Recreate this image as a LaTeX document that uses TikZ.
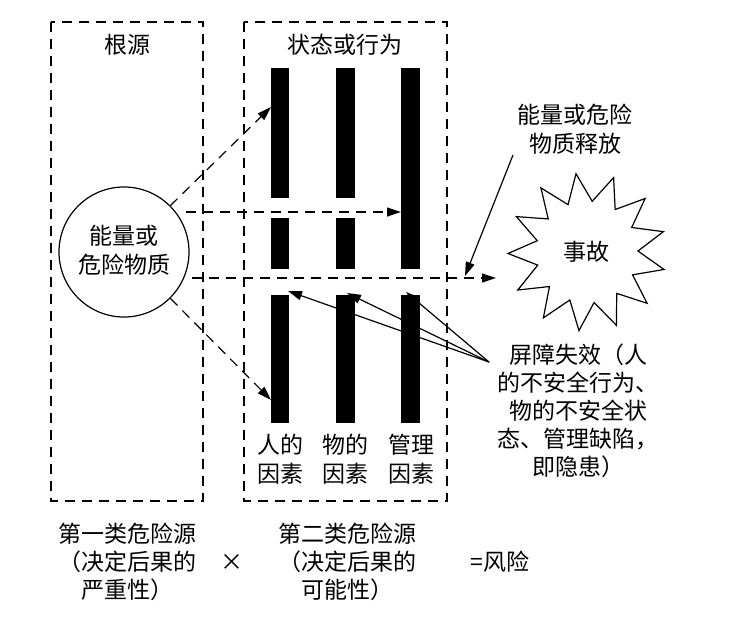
\documentclass[tikz,border=0pt]{standalone}
\usepackage{fontspec}
\setmainfont{Noto Sans CJK SC}
\usetikzlibrary{shapes.geometric,arrows.meta}
\begin{document}
\begin{tikzpicture}[x=1pt,y=-1pt,
  dsh/.style={line width=1.3pt,dash pattern=on 10pt off 7pt},
  bar/.style={fill=black,draw=none},
  txt/.style={font=\fontsize{23}{27}\selectfont,inner sep=0pt,align=center},
  arr/.style={line width=1.2pt,-{Triangle[length=14pt,width=9pt]}}]
\useasboundingbox (0,0) rectangle (742,624);
% boxes
\draw[dsh] (51,22) rectangle (203,501);
\draw[dsh] (244,22) rectangle (447,501);
% bars
\fill[bar] (271,68) rectangle (289,198);
\fill[bar] (336,68) rectangle (355,198);
\fill[bar] (271,218) rectangle (289,269);
\fill[bar] (336,218) rectangle (355,269);
\fill[bar] (401,68) rectangle (420,269);
\fill[bar] (271,295) rectangle (289,423);
\fill[bar] (336,295) rectangle (355,423);
\fill[bar] (401,295) rectangle (420,423);
\coordinate (b1top) at (271,107);
\coordinate (b3mid) at (401,212);
\coordinate (b1low) at (271,400);
\coordinate (h) at (496,278);
\coordinate (t1) at (288,291);
\coordinate (t2) at (347,293);
\coordinate (t3) at (406,292);
\coordinate (rel) at (465,276);
% titles
\node[txt] (gy) at (127,45) {根源};
\node[txt] (zt) at (345,45) {状态或行为};
% circle
\node[circle,draw,line width=1.2pt,minimum size=130pt,inner sep=0pt] (c) at (124,252) {};
\node[txt] (ct) at (124,250) {能量或\\[2pt]危险物质};
% star
\node[star,star points=13,star point ratio=1.55,draw,line width=1.2pt,minimum size=158pt,inner sep=0pt,rotate=8] (s) at (587,252) {};
\node[txt] (st) at (586,252) {事故};
% dashed connectors
\draw[dsh,arr] (c.45) -- (b1top);
\draw[dsh,arr] (186,212) -- (b3mid);
\draw[dsh,arr] (192,278) -- (h);
\draw[dsh,arr] (c.-45) -- (b1low);
% release label
\node[txt] (rl) at (575,129) {能量或危险\\[2pt]物质释放};
\draw[arr] (513,155) -- (rel);
% barrier label
\node[txt] (bl) at (578,411) {屏障失效（人\\[1pt]的不安全行为、\\[1pt]物的不安全状\\[1pt]态、管理缺陷，\\[1pt]即隐患）};
\coordinate (bo) at (489,362);
\draw[arr] (bo) -- (t1);
\draw[arr] (bo) -- (t2);
\draw[arr] (bo) -- (t3);
% bar labels
\node[txt] (l1) at (280,459) {人的\\[2pt]因素};
\node[txt] (l2) at (345,459) {物的\\[2pt]因素};
\node[txt] (l3) at (411,459) {管理\\[2pt]因素};
% bottom
\node[txt] (f1) at (127,562) {第一类危险源\\[1pt]（决定后果的\\[1pt]严重性）};
\node[txt] (x) at (232,562) {×};
\node[txt] (f2) at (347,562) {第二类危险源\\[1pt]（决定后果的\\[1pt]可能性）};
\node[txt] (r) at (500,562) {=风险};
\end{tikzpicture}
\end{document}
